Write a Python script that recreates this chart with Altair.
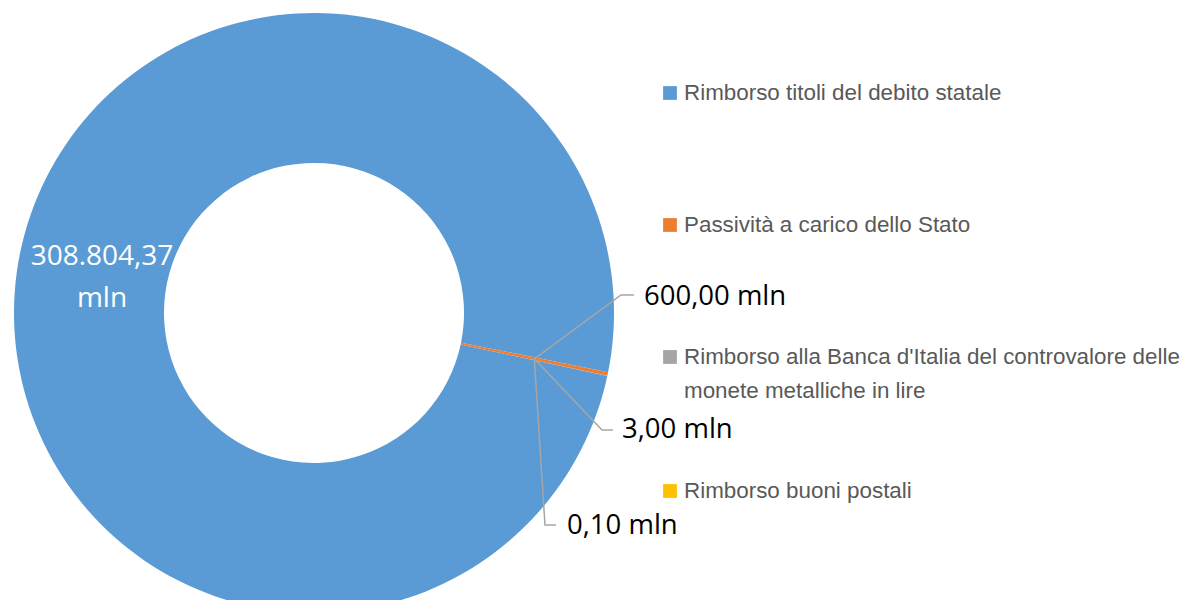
import math
import altair as alt
import pandas as pd

# ---- data ----
categories = [
    "Rimborso titoli del debito statale",
    "Passività a carico dello Stato",
    "Rimborso alla Banca d'Italia del controvalore delle monete metalliche in lire",
    "Rimborso buoni postali",
]
values = [308804.37, 600.00, 3.00, 0.10]
colors = ["#5B9BD5", "#ED7D31", "#A5A5A5", "#FFC000"]


def it_fmt(v):
    s = f"{v:,.2f}"
    return s.replace(",", "X").replace(".", ",").replace("X", ".") + " mln"


labels = [it_fmt(v) for v in values]

# ---- layout (plot-area pixel coordinates) ----
CX, CY = 306, 305
R_OUT, R_IN = 300, 150
START_DEG = 102.1
start = math.radians(START_DEG)

df = pd.DataFrame({"cat": categories, "value": values, "idx": list(range(4))})
color_scale = alt.Scale(domain=categories, range=colors)

donut = alt.Chart(df).mark_arc(outerRadius=R_OUT, innerRadius=R_IN).encode(
    theta=alt.Theta("value:Q", stack=True,
                    scale=alt.Scale(range=[start, start + 2 * math.pi])),
    color=alt.Color("cat:N", scale=color_scale, legend=None),
    order=alt.Order("idx:Q"),
    x=alt.value(CX),
    y=alt.value(CY),
)

# big label inside the blue ring
big = pd.DataFrame({"t": [labels[0].replace(" mln", "\nmln")], "x": [94], "y": [249]})
big_label = alt.Chart(big).mark_text(
    font="Open Sans", fontSize=28, color="white", align="center",
    baseline="middle", lineBreak="\n", lineHeight=42,
).encode(x=alt.X("x:Q", scale=None), y=alt.Y("y:Q", scale=None), text="t:N")

# small labels with leader lines
anchor_ang = math.radians(START_DEG - 0.35)
ax = CX + 225 * math.sin(anchor_ang)
ay = CY - 225 * math.cos(anchor_ang)
ends = {1: [(613, 287), (626, 287)], 2: [(594, 422), (605, 422)], 3: [(537, 517), (548, 517)]}
txt_pos = {1: (636, 289), 2: (614, 422), 3: (559, 518)}

seg_rows = []
for i, pts in ends.items():
    seg_rows.append({"k": i, "o": 0, "x": ax, "y": ay})
    for j, (px, py) in enumerate(pts):
        seg_rows.append({"k": i, "o": j + 1, "x": px, "y": py})
seg = pd.DataFrame(seg_rows)
leaders = alt.Chart(seg).mark_line(color="#A6A6A6", strokeWidth=1.5).encode(
    x=alt.X("x:Q", scale=None), y=alt.Y("y:Q", scale=None),
    detail="k:N", order="o:Q",
)

small = pd.DataFrame({
    "t": [labels[i] for i in txt_pos],
    "x": [txt_pos[i][0] for i in txt_pos],
    "y": [txt_pos[i][1] for i in txt_pos],
})
small_labels = alt.Chart(small).mark_text(
    font="Open Sans", fontSize=27.5, color="black", align="left", baseline="middle",
).encode(x=alt.X("x:Q", scale=None), y=alt.Y("y:Q", scale=None), text="t:N")

# manual legend
leg_y = [85, 217, 349, 483]
leg_sq = pd.DataFrame({"cat": categories, "x": [662] * 4, "y": leg_y})
legend_sq = alt.Chart(leg_sq).mark_square(size=190, opacity=1).encode(
    x=alt.X("x:Q", scale=None), y=alt.Y("y:Q", scale=None),
    color=alt.Color("cat:N", scale=color_scale, legend=None),
)
long_name = categories[2]
split_at = long_name.index(" monete")
leg_text_rows = [
    (categories[0], leg_y[0]),
    (categories[1], leg_y[1]),
    (long_name[:split_at], leg_y[2]),
    (long_name[split_at + 1:], leg_y[2] + 34),
    (categories[3], leg_y[3]),
]
leg_txt = pd.DataFrame({"t": [r[0] for r in leg_text_rows], "x": [676] * 5,
                        "y": [r[1] for r in leg_text_rows]})
legend_txt = alt.Chart(leg_txt).mark_text(
    font="Liberation Sans", fontSize=22.4, color="#595959", align="left", baseline="middle",
).encode(x=alt.X("x:Q", scale=None), y=alt.Y("y:Q", scale=None), text="t:N")

chart = alt.layer(donut, big_label, leaders, small_labels, legend_sq, legend_txt).properties(
    width=1179, height=592, padding=0,
    autosize=alt.AutoSizeParams(type="fit", contains="padding"),
).configure_view(stroke=None)

chart.save("out.html", embed_options={"renderer": "svg", "actions": False})
